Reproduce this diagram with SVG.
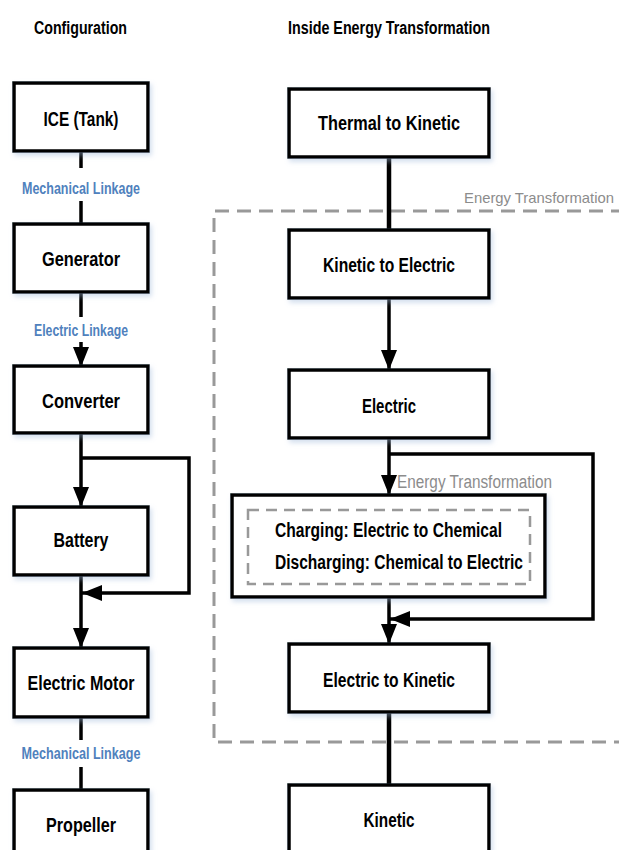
<svg xmlns="http://www.w3.org/2000/svg" width="619" height="850" viewBox="0 0 619 850">
<style>
.box{fill:#fff;stroke:#000;stroke-width:3.5}
.t{font-family:"Liberation Sans",Arial,sans-serif;font-weight:bold;font-size:20px;fill:#000;text-anchor:middle}
.h{font-family:"Liberation Sans",Arial,sans-serif;font-weight:bold;font-size:18px;fill:#000}
.lk{font-family:"Liberation Sans",Arial,sans-serif;font-weight:bold;font-size:16px;fill:#4F81BD;text-anchor:middle}
.et{font-family:"Liberation Sans",Arial,sans-serif;font-size:18px;fill:#8c8c8c}
.ln{fill:none;stroke:#000;stroke-width:3.5}
.dash{fill:none;stroke:#999;stroke-width:3;stroke-dasharray:14 8}
.dash2{fill:none;stroke:#999;stroke-width:2.5;stroke-dasharray:11 7}
</style>
<defs>
<marker id="ah" markerUnits="userSpaceOnUse" markerWidth="20" markerHeight="20" viewBox="0 0 20 16" refX="20" refY="8" orient="auto">
<path d="M0,0 L20,8 L0,16 Z" fill="#000"/>
</marker>
<filter id="sh" x="-10%" y="-10%" width="125%" height="130%">
<feDropShadow dx="2" dy="3" stdDeviation="2.5" flood-color="#9db8d9" flood-opacity="0.45"/>
</filter>
</defs>
<rect width="619" height="850" fill="#fff"/>

<text class="h" x="34" y="34" textLength="93" lengthAdjust="spacingAndGlyphs">Configuration</text>
<text class="h" x="288" y="34" textLength="202" lengthAdjust="spacingAndGlyphs">Inside Energy Transformation</text>

<g id="dashed-regions">
<path class="dash" d="M625,211 L214,211 L214,742 L625,742"/>
<text class="et" x="464" y="203" style="font-size:15px" textLength="150" lengthAdjust="spacingAndGlyphs">Energy Transformation</text>
</g>

<g id="connectors">
<line class="ln" x1="81" y1="151" x2="81" y2="168"/>
<line class="ln" x1="81" y1="201" x2="81" y2="224"/>
<line class="ln" x1="81" y1="292" x2="81" y2="317"/>
<line class="ln" x1="81" y1="342" x2="81" y2="367" marker-end="url(#ah)"/>
<line class="ln" x1="81" y1="433" x2="81" y2="507" marker-end="url(#ah)"/>
<path class="ln" d="M81,458 L189,458 L189,593 L82,593" marker-end="url(#ah)"/>
<line class="ln" x1="81" y1="575" x2="81" y2="648" marker-end="url(#ah)"/>
<line class="ln" x1="81" y1="717" x2="81" y2="740"/>
<line class="ln" x1="81" y1="767" x2="81" y2="790"/>

<line class="ln" x1="389" y1="157" x2="389" y2="230" style="stroke-width:4.5"/>
<line class="ln" x1="389" y1="298" x2="389" y2="370" marker-end="url(#ah)"/>
<line class="ln" x1="389" y1="438" x2="389" y2="495" marker-end="url(#ah)"/>
<path class="ln" d="M389,454 L593,454 L593,619 L390,619" marker-end="url(#ah)"/>
<line class="ln" x1="389" y1="597" x2="389" y2="644" marker-end="url(#ah)"/>
<line class="ln" x1="389" y1="712" x2="389" y2="785" style="stroke-width:4.5"/>
</g>

<g id="link-labels">
<text class="lk" x="81" y="194" textLength="118" lengthAdjust="spacingAndGlyphs">Mechanical Linkage</text>
<text class="lk" x="81" y="336" textLength="94" lengthAdjust="spacingAndGlyphs">Electric Linkage</text>
<text class="lk" x="81" y="759" textLength="119" lengthAdjust="spacingAndGlyphs">Mechanical Linkage</text>
</g>

<g id="ice"><rect class="box" filter="url(#sh)" x="14" y="83" width="134" height="68"/><text class="t" x="81" y="126" textLength="75" lengthAdjust="spacingAndGlyphs">ICE (Tank)</text></g>
<g id="generator"><rect class="box" filter="url(#sh)" x="14" y="224" width="134" height="68"/><text class="t" x="81" y="266" textLength="78" lengthAdjust="spacingAndGlyphs">Generator</text></g>
<g id="converter"><rect class="box" filter="url(#sh)" x="14" y="366" width="134" height="67"/><text class="t" x="81" y="408" textLength="78" lengthAdjust="spacingAndGlyphs">Converter</text></g>
<g id="battery"><rect class="box" filter="url(#sh)" x="14" y="507" width="134" height="68"/><text class="t" x="81" y="547" textLength="55" lengthAdjust="spacingAndGlyphs">Battery</text></g>
<g id="electric-motor"><rect class="box" filter="url(#sh)" x="14" y="648" width="134" height="69"/><text class="t" x="81" y="690" textLength="107" lengthAdjust="spacingAndGlyphs">Electric Motor</text></g>
<g id="propeller"><rect class="box" filter="url(#sh)" x="14" y="790" width="134" height="70"/><text class="t" x="81" y="832" textLength="70" lengthAdjust="spacingAndGlyphs">Propeller</text></g>

<g id="thermal-to-kinetic"><rect class="box" filter="url(#sh)" x="289" y="89" width="200" height="68"/><text class="t" x="389" y="130" textLength="142" lengthAdjust="spacingAndGlyphs">Thermal to Kinetic</text></g>
<g id="kinetic-to-electric"><rect class="box" filter="url(#sh)" x="289" y="230" width="200" height="68"/><text class="t" x="389" y="272" textLength="132" lengthAdjust="spacingAndGlyphs">Kinetic to Electric</text></g>
<g id="electric"><rect class="box" filter="url(#sh)" x="289" y="370" width="200" height="68"/><text class="t" x="389" y="413" textLength="54" lengthAdjust="spacingAndGlyphs">Electric</text></g>
<g id="battery-transformation">
<rect class="box" filter="url(#sh)" x="232" y="495" width="313" height="102"/>
<rect class="dash2" x="248" y="510" width="282" height="74"/>
<text class="et" x="397" y="488" textLength="155" lengthAdjust="spacingAndGlyphs">Energy Transformation</text>
<text class="t" x="275" y="537" style="text-anchor:start" textLength="227" lengthAdjust="spacingAndGlyphs">Charging: Electric to Chemical</text>
<text class="t" x="275" y="569" style="text-anchor:start" textLength="248" lengthAdjust="spacingAndGlyphs">Discharging: Chemical to Electric</text>
</g>
<g id="electric-to-kinetic"><rect class="box" filter="url(#sh)" x="289" y="644" width="200" height="68"/><text class="t" x="389" y="687" textLength="132" lengthAdjust="spacingAndGlyphs">Electric to Kinetic</text></g>
<g id="kinetic"><rect class="box" filter="url(#sh)" x="289" y="785" width="200" height="75"/><text class="t" x="389" y="827" textLength="51" lengthAdjust="spacingAndGlyphs">Kinetic</text></g>
</svg>
